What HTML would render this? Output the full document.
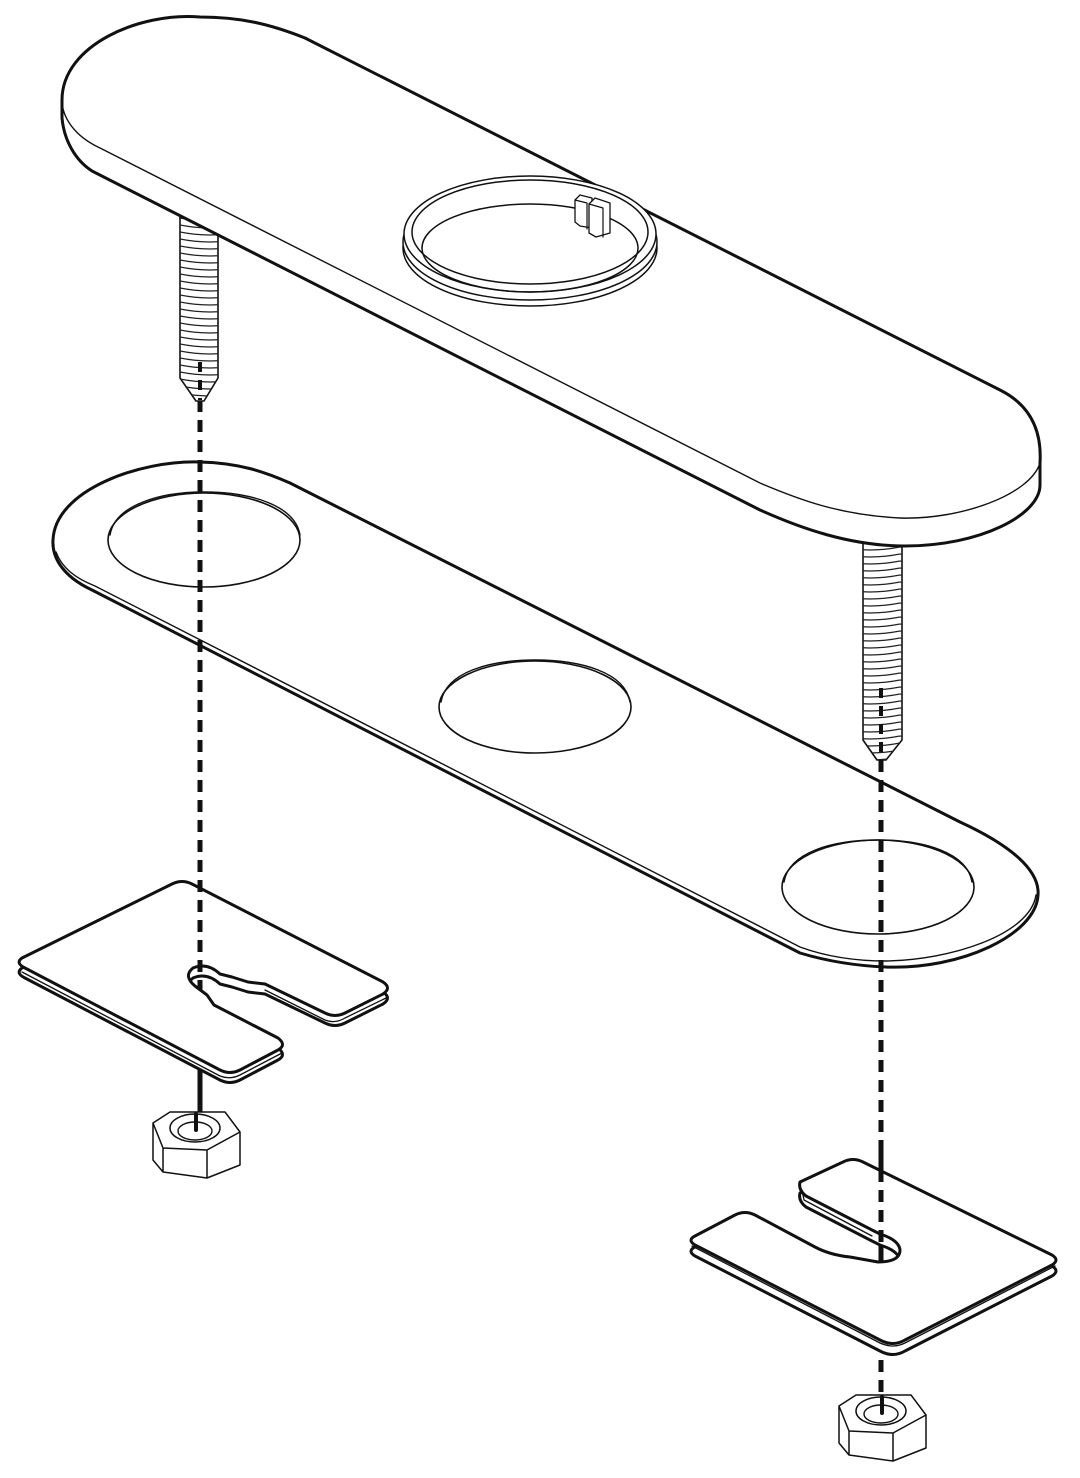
<!DOCTYPE html>
<html><head><meta charset="utf-8"><style>
html,body{margin:0;padding:0;background:#fff;}
svg{display:block;}
</style></head><body>
<svg width="1080" height="1478" viewBox="0 0 1080 1478" xmlns="http://www.w3.org/2000/svg">
<defs>
<pattern id="thrL" patternUnits="userSpaceOnUse" x="0" y="0" width="60" height="7">
<path d="M0,1 Q30,7 60,1" fill="none" stroke="#222" stroke-width="1.3"/>
</pattern>
<clipPath id="cL"><path d="M180,205 L218,205 L218,378 L204,401 L196,401 L180,378 Z"/></clipPath>
<clipPath id="cR"><path d="M863,545 L902,545 L902,740 L886,760 L877,760 L863,740 Z"/></clipPath>
<path id="shimL" d="M22,958 L172,884 Q182,879 192,884 L383,982 Q392,988 383,994 L345,1013 Q335,1018 325,1013 L265,984 L248,982 L232,977 L220,974 Q207,962 193,968 Q183,976 195,986 L207,995 L214,1005 L278,1038 Q287,1045 278,1050 L240,1070 Q230,1075 220,1070 L25,968 Q15,963 22,958 Z"/>
<path id="shimR" d="M695,1236 L735,1215 Q745,1210 755,1215 L815,1247 Q830,1255 850,1257 L878,1262 Q900,1262 900,1250 Q899,1240 880,1234 L872,1230 L806,1196 Q798,1190 800,1182 L843,1162 Q853,1157 863,1162 L1052,1255 Q1060,1260 1052,1265 L905,1340 Q893,1347 880,1340 L695,1245 Q687,1240 695,1236 Z"/>
</defs>
<g fill="none" stroke="#111" stroke-linejoin="round" stroke-linecap="round">

<!-- GASKET -->
<path d="M290,483 L960,822 C1010,845 1040,870 1038,895 C1036,935 960,970 886,967 C860,966 830,962 800,953 L92,590 C60,575 52,555 53,540 C55,490 140,460 200,462 C240,463 265,472 290,483 Z" fill="#fff" stroke-width="3"/>
<path d="M56,552 C62,568 75,578 95,586 L800,947 C830,958 860,961 886,961 C950,960 1030,935 1036,895" stroke-width="1.4"/>
<ellipse cx="204" cy="540" rx="96" ry="47" stroke-width="1.6"/>
<path d="M110,535 C115,505 160,492 204,492 C250,492 295,505 300,535" stroke-width="1.4"/>
<ellipse cx="535" cy="707" rx="96" ry="46" stroke-width="1.6"/>
<path d="M441,702 C446,672 490,660 535,660 C580,660 625,672 630,702" stroke-width="1.4"/>
<ellipse cx="878" cy="887" rx="96" ry="47" stroke-width="1.6"/>
<path d="M784,882 C789,852 833,840 878,840 C923,840 967,852 972,882" stroke-width="1.4"/>

<!-- dashed lines -->
<line x1="200" y1="400" x2="200" y2="1140" stroke-width="5" stroke-dasharray="12 8" stroke-linecap="butt"/>
<line x1="881" y1="760" x2="881" y2="1420" stroke-width="5" stroke-dasharray="12 8" stroke-linecap="butt"/>

<!-- LEFT SCREW -->
<path d="M180,205 L218,205 L218,378 L204,401 L196,401 L180,378 Z" fill="#fff" stroke-width="1.6"/>
<rect x="170" y="200" width="60" height="205" fill="url(#thrL)" clip-path="url(#cL)" stroke="none"/>
<line x1="200" y1="362" x2="200" y2="400" stroke-width="4" stroke-dasharray="10 8" stroke-linecap="butt"/>

<!-- RIGHT SCREW -->
<path d="M863,540 L902,540 L902,740 L886,760 L877,760 L863,740 Z" fill="#fff" stroke-width="1.6"/>
<rect x="853" y="540" width="60" height="225" fill="url(#thrL)" clip-path="url(#cR)" stroke="none"/>
<line x1="881" y1="688" x2="881" y2="760" stroke-width="4" stroke-dasharray="10 8" stroke-linecap="butt"/>

<!-- TOP PLATE -->
<path d="M62,100 L62,118 C64,140 75,160 92,171 L760,510 C800,528 850,546 905,546 C980,546 1040,515 1040,485 L1040,463 C1042,430 1030,405 1000,390 L305,38 C270,24 240,17 200,17 C140,12 62,45 62,100 Z" fill="#fff" stroke-width="3"/>
<path d="M62,100 C62,115 72,135 100,148 L760,483 C800,500 840,515 900,518 C960,520 1030,495 1040,463" stroke-width="1.4"/>
<!-- ring -->
<ellipse cx="530" cy="248" rx="127" ry="58" stroke-width="1.5"/>
<ellipse cx="530" cy="242" rx="127" ry="58" fill="#fff" stroke-width="1.5"/>
<ellipse cx="530" cy="234" rx="126" ry="58" fill="#fff" stroke-width="1.5"/>
<ellipse cx="530" cy="232" rx="118" ry="52" stroke-width="1.5"/>
<ellipse cx="530" cy="248" rx="108" ry="44" stroke-width="1.5"/>
<path d="M575,200 L580,195 L592,198 L592,228 L580,226 L575,222 Z" fill="#fff" stroke-width="1.3"/>
<path d="M575,200 L587,203 L587,229" stroke-width="1.2"/>
<path d="M589,204 L595,198 L610,203 L610,233 L596,237 L589,233 Z" fill="#fff" stroke-width="1.3"/>
<path d="M589,204 L603,208 L603,237" stroke-width="1.2"/>

<!-- LEFT SHIM -->
<use href="#shimL" transform="translate(0,10)" fill="#fff" stroke-width="3"/>
<use href="#shimL" fill="#fff" stroke-width="3"/>
<path d="M22,972 L220,1076 Q230,1080 240,1075 L282,1053 M265,990 L325,1020 Q335,1024 345,1018 L386,998" stroke-width="1.3"/>
<line x1="200" y1="880" x2="200" y2="990" stroke-width="5" stroke-dasharray="12 8" stroke-linecap="butt"/>
<line x1="200" y1="1070" x2="200" y2="1140" stroke-width="5" stroke-dasharray="12 8" stroke-linecap="butt"/>

<!-- LEFT NUT -->
<path d="M153,1123 L170,1112 L225,1112 L240,1132 L207,1150 L163,1148 Z L153,1160 L163,1172 L207,1178 L240,1165 L240,1132 M163,1148 L163,1172 M207,1150 L207,1178" fill="#fff" stroke-width="1.5"/>
<ellipse cx="195" cy="1128" rx="25" ry="14" fill="#fff" stroke-width="1.5"/>
<ellipse cx="195" cy="1131" rx="17" ry="9" stroke-width="1.4"/>
<line x1="196" y1="1114" x2="196" y2="1130" stroke-width="4"/>

<!-- RIGHT SHIM -->
<use href="#shimR" transform="translate(0,11)" fill="#fff" stroke-width="3"/>
<use href="#shimR" fill="#fff" stroke-width="3"/>
<path d="M692,1246 L880,1343 Q893,1349 905,1343 L1055,1266 M802,1190 L804,1200 L872,1236" stroke-width="1.3"/>
<line x1="881" y1="1150" x2="881" y2="1262" stroke-width="5" stroke-dasharray="12 8" stroke-linecap="butt"/>

<!-- RIGHT NUT -->
<g transform="translate(686,283)">
<path d="M153,1123 L170,1112 L225,1112 L240,1132 L207,1150 L163,1148 Z L153,1160 L163,1172 L207,1178 L240,1165 L240,1132 M163,1148 L163,1172 M207,1150 L207,1178" fill="#fff" stroke-width="1.5"/>
<ellipse cx="195" cy="1128" rx="25" ry="14" fill="#fff" stroke-width="1.5"/>
<ellipse cx="195" cy="1131" rx="17" ry="9" stroke-width="1.4"/>
<line x1="196" y1="1114" x2="196" y2="1130" stroke-width="4"/>
</g>
</g>
</svg>
</body></html>
